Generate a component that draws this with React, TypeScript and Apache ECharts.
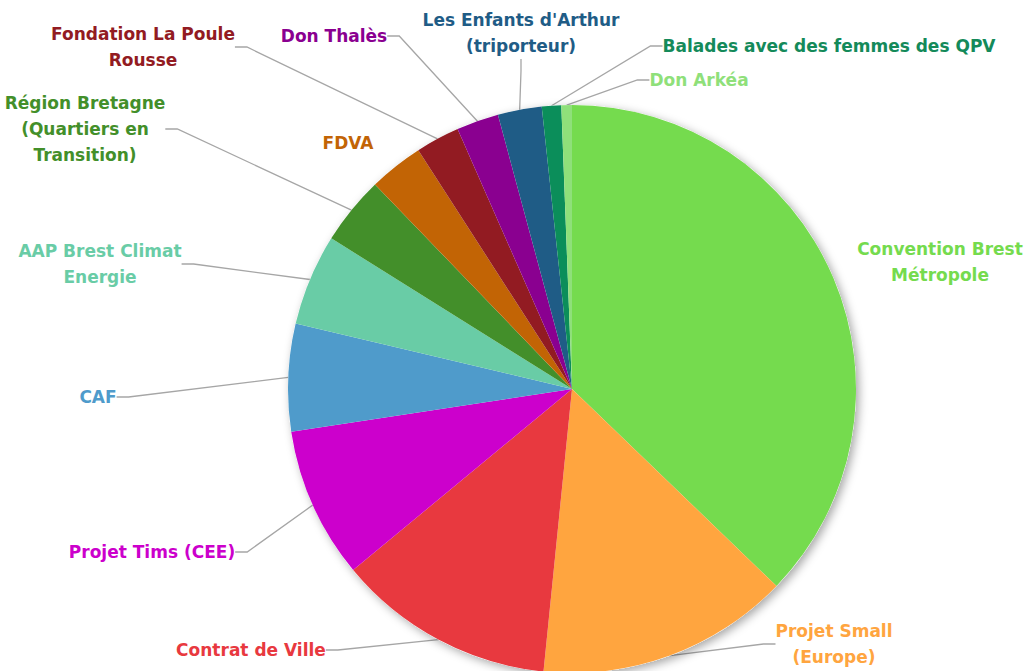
import React, { useEffect, useRef } from "react";
import * as echarts from "echarts";

const categories = [
  "Convention Brest Métropole",
  "Projet Small (Europe)",
  "Contrat de Ville",
  "Projet Tims (CEE)",
  "CAF",
  "AAP Brest Climat Energie",
  "Région Bretagne (Quartiers en Transition)",
  "FDVA",
  "Fondation La Poule Rousse",
  "Don Thalès",
  "Les Enfants d'Arthur (triporteur)",
  "Balades avec des femmes des QPV",
  "Don Arkéa",
];

const values = [37.2, 14.4, 12.4, 8.6, 6.1, 5.2, 3.9, 3.1, 2.5, 2.4, 2.5, 1.1, 0.6];

const labelTexts = [
  "Convention Brest\nMétropole",
  "Projet Small\n(Europe)",
  "Contrat de Ville",
  "Projet Tims (CEE)",
  "CAF",
  "AAP Brest Climat\nEnergie",
  "Région Bretagne\n(Quartiers en\nTransition)",
  "FDVA",
  "Fondation La Poule\nRousse",
  "Don Thalès",
  "Les Enfants d'Arthur\n(triporteur)",
  "Balades avec des femmes des QPV",
  "Don Arkéa",
];

const sliceColors = [
  "#75DB4E", "#FFA53F", "#E8393F", "#CC00CC", "#4F9BCB", "#69CCA6", "#438F2A",
  "#C26405", "#921B22", "#8A0090", "#1F5C86", "#0B8E5A", "#8FE07A",
];

const labelColors = [
  "#75DB4E", "#FFA53F", "#E8393F", "#CC00CC", "#4F9BCB", "#69CCA6", "#438F2A",
  "#C26405", "#921B22", "#8A0090", "#1F5C86", "#148A5A", "#8FE07A",
];

const showGuide = [false, true, true, true, true, true, true, false, true, true, true, true, true];

// label block centres (layout, not data)
const labelX = [940, 834, 251, 152, 98, 100, 85, 348, 143, 334, 521, 829, 699];
const labelY = [262, 644, 650, 552, 397, 264, 129, 143, 47, 36, 33, 46, 80];

export default function App() {
  const ref = useRef<HTMLDivElement>(null);
  useEffect(() => {
    document.body.style.margin = "0";
    const chart = echarts.init(ref.current!, undefined, { renderer: "svg" });
    const center = [572, 389];
    const radius = 284;
    chart.setOption({
      animation: false,
      backgroundColor: "#ffffff",
      series: [
        {
          type: "pie",
          silent: true,
          center,
          radius,
          label: { show: false },
          labelLine: { show: false },
          data: [{ value: 1, name: "shadow" }],
          itemStyle: {
            color: "#ffffff",
            shadowBlur: 10,
            shadowColor: "rgba(0,0,0,0.35)",
            shadowOffsetX: 3,
            shadowOffsetY: 3,
          },
        },
        {
          type: "pie",
          center,
          radius,
          startAngle: 90,
          clockwise: true,
          avoidLabelOverlap: false,
          data: categories.map((name, i) => ({
            name,
            value: values[i],
            itemStyle: { color: sliceColors[i] },
            label: { color: labelColors[i] },
            labelLine: { show: showGuide[i] },
          })),
          label: {
            show: true,
            formatter: (p: any) => labelTexts[p.dataIndex],
            fontFamily: "DejaVu Sans",
            fontWeight: "bold",
            fontSize: 17,
            lineHeight: 26,
            align: "center",
          },
          labelLine: {
            show: true,
            length: 20,
            length2: 12,
            lineStyle: { color: "#A6A6A6", width: 1.3 },
          },
          labelLayout: (params: any) => ({
            x: labelX[params.dataIndex],
            y: labelY[params.dataIndex],
            align: "center",
            verticalAlign: "middle",
          }),
        },
      ],
    });
    return () => chart.dispose();
  }, []);
  return (
    <div
      ref={ref}
      style={{ position: "absolute", left: 0, top: 0, width: 1027, height: 671 }}
    />
  );
}
